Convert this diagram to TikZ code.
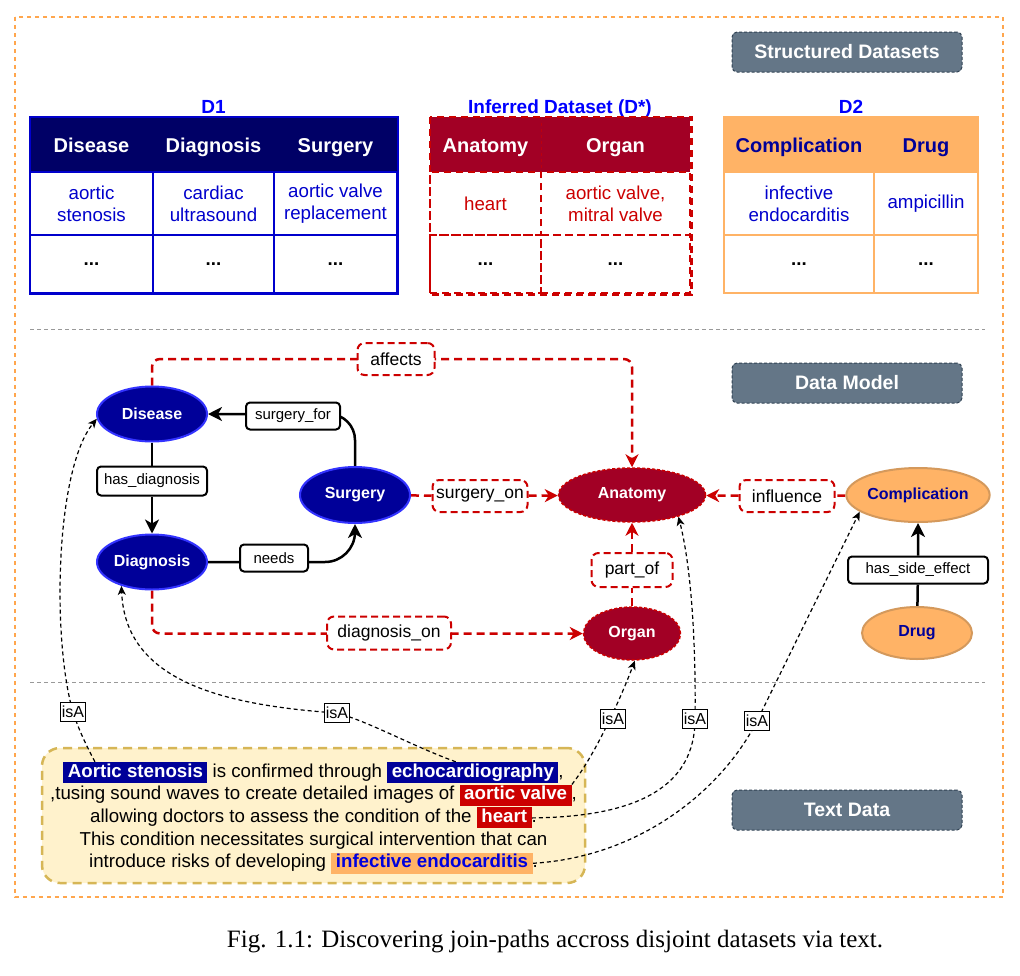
\documentclass[tikz,border=0pt]{standalone}
\usepackage{fontspec}
\setmainfont{Liberation Sans}
\newfontfamily\capfont{Liberation Serif}
\usetikzlibrary{shapes.geometric,arrows.meta,calc}
\definecolor{navyhd}{HTML}{000066}
\definecolor{navyfill}{HTML}{000099}
\definecolor{blueln}{HTML}{0000CC}
\definecolor{entln}{HTML}{3333FF}
\definecolor{ttlblue}{HTML}{0000FF}
\definecolor{infred}{HTML}{A20025}
\definecolor{redln}{HTML}{CC0000}
\definecolor{orng}{HTML}{FFB366}
\definecolor{orngln}{HTML}{D4995C}
\definecolor{grayfill}{HTML}{647687}
\definecolor{grayln}{HTML}{314354}
\definecolor{txtfill}{HTML}{FFF2CC}
\definecolor{txtln}{HTML}{D6B656}
\definecolor{framec}{HTML}{FFA64D}
\definecolor{sepc}{HTML}{999999}
\definecolor{endoc}{HTML}{0000DD}
\newcommand{\myfs}[2]{\fontsize{#1}{#2}\selectfont}
\newcommand{\tsp}{\kern 0.28em}
\pgfdeclarelayer{back}
\pgfdeclarelayer{edges}
\pgfsetlayers{back,edges,main}
\begin{document}
\begin{tikzpicture}[x=1pt,y=-1pt,
 cellbase/.style={inner sep=0pt, align=center},
 hdtxt/.style={text height=16pt, text depth=0pt},
 d1hd/.style={cellbase, hdtxt, fill=navyhd, minimum height=55pt, text=white, font=\bfseries\myfs{20}{24}},
 d1bd/.style={cellbase, draw=blueln, line width=2pt, text=blueln, font=\myfs{18.7}{22.3}},
 dshd/.style={cellbase, hdtxt, fill=infred, minimum height=55pt, text=white, font=\bfseries\myfs{20}{24}},
 dsbd/.style={cellbase, draw=redln, line width=2.5pt, dash pattern=on 7pt off 5pt, text=redln, font=\myfs{18.7}{22.3}},
 d2hd/.style={cellbase, hdtxt, fill=orng, draw=orng, line width=2.5pt, minimum height=55pt, text=navyfill, font=\bfseries\myfs{20}{24}},
 d2bd/.style={cellbase, draw=orng, line width=2.5pt, text=blueln, font=\myfs{18.7}{22.3}},
 dots/.style={text=black, font=\bfseries\myfs{18.7}{22.3}},
 ttl/.style={anchor=base, inner sep=0pt, text=ttlblue, font=\bfseries\myfs{19}{22}},
 sect/.style={fill=grayfill, draw=grayln, line width=1pt, dash pattern=on 3pt off 2pt, rounded corners=5pt, minimum width=230pt, minimum height=40pt, inner sep=0pt, text=white, font=\bfseries\myfs{19.5}{23}},
 ent/.style={ellipse, fill=navyfill, draw=entln, line width=2pt, inner sep=0pt, text=white, font=\bfseries\myfs{16}{19}},
 infn/.style={ellipse, fill=infred, draw=redln, line width=1.5pt, dash pattern=on 3pt off 2pt, inner sep=0pt, text=white, font=\bfseries\myfs{16}{19}},
 cmpn/.style={ellipse, fill=orng, draw=orngln, line width=2pt, inner sep=0pt, text=navyfill, font=\bfseries\myfs{16}{19}},
 blbl/.style={draw=black, line width=2pt, fill=white, rounded corners=4pt, inner sep=0pt, minimum height=27pt, font=\myfs{15}{18}},
 rlbl/.style={draw=redln, line width=2pt, dash pattern=on 7pt off 4pt, fill=white, rounded corners=7pt, inner sep=0pt, minimum height=32pt, font=\myfs{17.5}{20}},
 isal/.style={draw=black, line width=1pt, fill=white, inner xsep=1.5pt, inner ysep=4pt, text height=11.5pt, text depth=0pt, font=\myfs{16}{18}},
 blk/.style={draw=black, line width=2.5pt},
 btip/.style={-{Stealth[length=14pt,width=14pt,inset=4pt]}},
 redge/.style={draw=redln, line width=2.5pt, dash pattern=on 8pt off 5pt},
 rtip/.style={-{Stealth[length=13pt,width=13pt,inset=4pt]}},
 isa/.style={draw=black, line width=1.2pt, dash pattern=on 4pt off 3pt},
 itip/.style={-{Stealth[length=9pt,width=8pt,inset=2.5pt]}},
 ptxt/.style={anchor=base, inner sep=0pt, text height=13pt, text depth=4pt, font=\myfs{18.7}{22}},
 hl/.style={anchor=base, inner xsep=4.5pt, inner ysep=2pt, text height=13pt, text depth=4pt, font=\bfseries\myfs{18.7}{22}},
 hlnavy/.style={hl, fill=navyfill, text=white},
 hlred/.style={hl, fill=redln, text=white},
 hlorng/.style={hl, fill=orng, text=endoc},
 tline/.style={column sep=0pt, row sep=0pt, inner sep=0pt},
 tbox/.style={draw=txtln, fill=txtfill, line width=2.5pt, dash pattern=on 9pt off 6pt, rounded corners=18pt, minimum width=543pt, minimum height=135pt},
 sep/.style={draw=sepc, line width=1pt, dash pattern=on 4pt off 3pt},
 frame/.style={draw=framec, line width=2pt, dash pattern=on 4pt off 4pt}
]
\useasboundingbox (0,0) rectangle (1020,975);

\begin{pgfonlayer}{back}
\fill[white] (0,0) rectangle (1020,975);
\draw[frame] (15,17) rectangle (1003,897);
\draw[sep] (30,329) -- (985,329);
\draw[sep] (30,682) -- (985,682);
\node[tbox] (tbox) at (313.5,815.5) {};
\end{pgfonlayer}

% section headers
\node[sect] (shd1) at (847,52) {Structured Datasets};
\node[sect] (shd2) at (847,383) {Data Model};
\node[sect] (shd3) at (847,810) {Text Data};

% titles
\node[ttl] (t1) at (213.5,113) {D1};
\node[ttl] (t2) at (560,113) {Inferred Dataset (D*)};
\node[ttl] (t3) at (851,113) {D2};

% D1 table
\node[d1hd, minimum width=123pt] (d1h1) at (91.5,144.5) {Disease};
\node[d1hd, minimum width=121pt] (d1h2) at (213.5,144.5) {Diagnosis};
\node[d1hd, minimum width=123pt] (d1h3) at (335.5,144.5) {Surgery};
\node[d1bd, minimum width=123pt, minimum height=63pt] (d1a1) at (91.5,203.5) {aortic\\stenosis};
\node[d1bd, minimum width=121pt, minimum height=63pt] (d1a2) at (213.5,203.5) {cardiac\\ultrasound};
\node[d1bd, minimum width=123pt, minimum height=63pt] (d1a3) at (335.5,203.5) {aortic valve\\replacement};
\node[d1bd, dots, minimum width=123pt, minimum height=58pt] (d1b1) at (91.5,264) {...};
\node[d1bd, dots, minimum width=121pt, minimum height=58pt] (d1b2) at (213.5,264) {...};
\node[d1bd, dots, minimum width=123pt, minimum height=58pt] (d1b3) at (335.5,264) {...};
\draw[draw=blueln, line width=2.5pt] (d1h1.north west) rectangle (d1b3.south east);

% D* table
\node[dshd, minimum width=111pt] (dsh1) at (485.5,144.5) {Anatomy};
\node[dshd, minimum width=149pt] (dsh2) at (615.5,144.5) {Organ};
\node[dsbd, minimum width=111pt, minimum height=63pt] (dsa1) at (485.5,203.5) {heart};
\node[dsbd, minimum width=149pt, minimum height=63pt] (dsa2) at (615.5,203.5) {aortic valve,\\mitral valve};
\node[dsbd, dots, minimum width=111pt, minimum height=58pt] (dsb1) at (485.5,264) {...};
\node[dsbd, dots, minimum width=149pt, minimum height=58pt] (dsb2) at (615.5,264) {...};
\draw[draw=redln!60!infred, line width=1pt, dash pattern=on 3pt off 3pt] (dsh1.north east) -- (dsh1.south east);
\draw[draw=redln, line width=2.5pt, dash pattern=on 7pt off 5pt] (dsh1.north west) rectangle (dsb2.south east);

% D2 table
\node[d2hd, minimum width=150pt] (d2h1) at (799,144.5) {Complication};
\node[d2hd, minimum width=104pt] (d2h2) at (926,144.5) {Drug};
\node[d2bd, minimum width=150pt, minimum height=63pt] (d2a1) at (799,203.5) {infective\\endocarditis};
\node[d2bd, minimum width=104pt, minimum height=63pt] (d2a2) at (926,203.5) {ampicillin};
\node[d2bd, dots, minimum width=150pt, minimum height=58pt] (d2b1) at (799,264) {...};
\node[d2bd, dots, minimum width=104pt, minimum height=58pt] (d2b2) at (926,264) {...};

% data model nodes
\node[ent, minimum width=110pt, minimum height=55pt] (disease) at (152,414) {Disease};
\node[ent, minimum width=110pt, minimum height=55pt] (diagnosis) at (152,562) {Diagnosis};
\node[ent, minimum width=110pt, minimum height=56pt] (surgery) at (355,495) {Surgery};
\node[infn, minimum width=147pt, minimum height=54pt] (anatomy) at (632,495) {Anatomy};
\node[infn, minimum width=97pt, minimum height=53pt] (organ) at (632,633.5) {Organ};
\node[cmpn, minimum width=140pt, minimum height=54pt] (complication) at (918,495) {Complication};
\node[cmpn, minimum width=110pt, minimum height=52pt] (drug) at (917,633) {Drug};

% labels
\node[blbl, minimum width=94pt] (sfor) at (293,416) {surgery\_for};
\node[blbl, minimum width=110pt, minimum height=29pt] (hdiag) at (152,481) {has\_diagnosis};
\node[blbl, minimum width=68pt] (needs) at (274,558) {needs};
\node[blbl, minimum width=140pt] (hse) at (918,570) {has\_side\_effect};
\node[rlbl, minimum width=77pt] (affects) at (396,359) {affects};
\node[rlbl, minimum width=95pt] (son) at (480,496) {surgery\_on};
\node[rlbl, minimum width=95pt] (infl) at (787,496) {influence};
\node[rlbl, minimum width=81pt, minimum height=34pt] (partof) at (632,570) {part\_of};
\node[rlbl, minimum width=124pt, minimum height=33pt] (diagon) at (389,633) {diagnosis\_on};
\coordinate (affc) at (632,359);

% text lines
\matrix (tl1) [tline] at (313.5,772.5) {
 \node[hlnavy] (as) {Aortic stenosis}; & \node[ptxt] (l1b) {\tsp is confirmed through\tsp}; & \node[hlnavy] (echo) {echocardiography}; & \node[ptxt] (l1d) {,}; \\
};
\matrix (tl2) [tline] at (313.5,795.2) {
 \node[ptxt] (l2a) {,tusing sound waves to create detailed images of\tsp}; & \node[hlred] (av) {aortic valve}; & \node[ptxt] (l2c) {,}; \\
};
\matrix (tl3) [tline] at (313.5,817.9) {
 \node[ptxt] (l3a) {allowing doctors to assess the condition of the\tsp}; & \node[hlred] (heart) {heart}; & \node[ptxt] (l3c) {.}; \\
};
\matrix (tl4) [tline] at (313.5,840.6) {
 \node[ptxt] (l4a) {This condition necessitates surgical intervention that can}; \\
};
\matrix (tl5) [tline] at (313.5,863.3) {
 \node[ptxt] (l5a) {introduce risks of developing\tsp}; & \node[hlorng] (endo) {infective endocarditis}; & \node[ptxt] (l5c) {.}; \\
};

% isA labels
\node[isal] (isa1) at (73,712) {isA};
\node[isal] (isa2) at (337,713) {isA};
\node[isal] (isa3) at (613,719) {isA};
\node[isal] (isa4) at (695,719) {isA};
\node[isal] (isa5) at (757,721) {isA};

% caption
\node[font=\capfont\myfs{25}{30}, inner sep=0pt] (cap) at (555,942) {Fig. 1.1: Discovering join-paths accross disjoint datasets via text.};

\begin{pgfonlayer}{edges}
% black edges
\draw[blk, btip] (disease) -- (hdiag) -- (diagnosis);
\draw[blk, btip, rounded corners=26pt] (surgery.north) |- (disease.east);
\draw[blk, btip, rounded corners=30pt] (diagnosis.east) -| (surgery.south);
\draw[blk, btip] (drug) -- (hse) -- (complication);
% red edges
\draw[redge, rtip, rounded corners=8pt] (disease.north) |- (affc) -- (anatomy.north);
\draw[redge, rtip] (surgery) -- (son) -- (anatomy);
\draw[redge, rtip] (complication) -- (infl) -- (anatomy);
\draw[redge, rtip] (organ) -- (partof) -- (anatomy);
\draw[redge, rtip, rounded corners=8pt] (diagnosis.south) |- (organ.west);
% isA edges
\draw[isa, itip] ($(as.north west)!0.22!(as.north east)$) .. controls (86,745) and (78,728) .. (isa1.center) .. controls (52,640) and (55,470) .. (disease.185);
\draw[isa, itip] ($(echo.north west)!0.4!(echo.north east)$) .. controls (410,745) and (370,722) .. (isa2.center) .. controls (220,705) and (125,680) .. (diagnosis.218);
\draw[isa, itip] (av.north east) .. controls (595,755) and (620,700) .. (organ.-84);
\draw[isa, itip] (heart.east) .. controls (640,817) and (695,785) .. (isa4.center) .. controls (696,650) and (692,570) .. (anatomy.-25);
\draw[isa, itip] (endo.east) .. controls (640,857) and (722,790) .. (isa5.center) -- (complication.196);
\end{pgfonlayer}
\end{tikzpicture}
\end{document}
